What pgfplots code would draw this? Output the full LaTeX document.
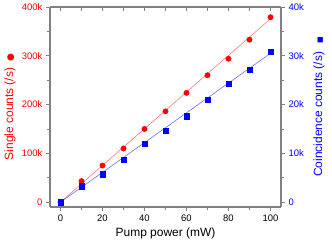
\documentclass[border=0pt]{standalone}
\usepackage{pgfplots}
\pgfplotsset{compat=1.18}
\usepackage{fontspec}
\setmainfont{Liberation Sans}
\newfontfamily\sym{DejaVu Sans}
\definecolor{framegray}{RGB}{128,128,128}
\definecolor{fitred}{RGB}{255,120,120}
\definecolor{fitblue}{RGB}{110,110,255}
\begin{document}
\begin{tikzpicture}
\pgfplotsset{
 common/.style={scale only axis, width=231bp, height=200bp, xmin=-5, xmax=105,
   axis line style={framegray, line width=1.1bp},
   major tick length=4bp, minor tick length=2.5bp,
   every tick/.style={framegray, line width=0.8bp},
   /pgf/number format/assume math mode=true,
   tick label style={font=\fontsize{9.5}{10}\selectfont},
   label style={font=\fontsize{12}{13}\selectfont},
   scaled y ticks=false, clip=false,
 }
}
\begin{axis}[common, ymin=-10000, ymax=400000,
  axis y line*=left, axis x line*=bottom, tick align=outside,
  xtick={0,20,...,100}, minor x tick num=1,
  ytick={0,100000,200000,300000,400000}, yticklabels={0,100k,200k,300k,400k},
  minor y tick num=1, yticklabel style={red},
  xlabel={Pump power (mW)},
  xlabel style={at={(rel axis cs:0.5,0)}, anchor=center, yshift=-26bp},
  ylabel={Single counts (/s)\hspace{6bp}{\sym\fontsize{9}{9}\selectfont ●}},
  ylabel style={red, at={(rel axis cs:0,0.5)}, anchor=center, rotate=0, yshift=40bp},
]
\addplot[fitred, line width=0.6bp] coordinates {(0,0) (100,376000)};
\addplot[only marks, mark=*, red, mark size=2.7bp] coordinates {
(0,0) (10,43000) (20,75000) (30,110000) (40,150000) (50,186000)
(60,224000) (70,260000) (80,294000) (90,333000) (100,379000)};
\end{axis}
\begin{axis}[common, ymin=-1000, ymax=40000,
  axis y line*=right, axis x line=none, tick align=outside,
  ytick={0,10000,20000,30000,40000}, yticklabels={0,10k,20k,30k,40k},
  minor y tick num=1, yticklabel style={blue},
  ylabel={Coincidence counts (/s)\hspace{8bp}{\sym\fontsize{7}{7}\selectfont ■}},
  ylabel style={blue, at={(rel axis cs:1,0.5)}, anchor=center, yshift=-38bp},
]
\addplot[fitblue, line width=0.6bp] coordinates {(0,0) (100,30500)};
\addplot[only marks, mark=square*, blue, mark size=2.6bp] coordinates {
(0,0) (10,3280) (20,5740) (30,8680) (40,11960) (50,14600)
(60,17600) (70,21000) (80,24300) (90,27100) (100,30900)};
\end{axis}
\begin{axis}[common, ymin=0, ymax=1, axis x line*=top, axis y line=none,
  tick align=inside, xtick={0,10,...,100}, xticklabels={}]
\end{axis}
\pgfresetboundingbox
\path[use as bounding box] (-50bp,-37bp) rectangle (282bp,207bp);
\end{tikzpicture}
\end{document}
